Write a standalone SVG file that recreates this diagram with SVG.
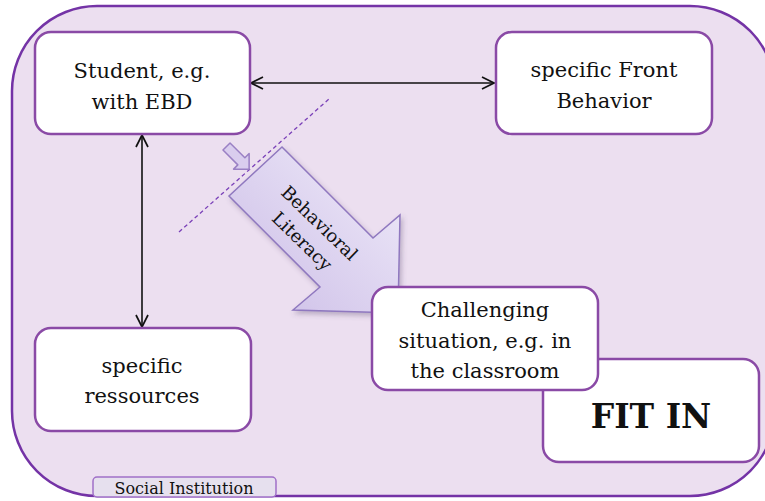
<svg xmlns="http://www.w3.org/2000/svg" width="765" height="501" viewBox="0 0 765 501">
  <style>
    .node { fill: #ffffff; stroke: #8a4aa6; stroke-width: 2.5; }
    .txt { font-family: "DejaVu Serif", "Liberation Serif", serif; font-size: 21px; fill: #111111; text-anchor: middle; }
    .conn { stroke: #111111; stroke-width: 1.6; fill: none; marker-start: url(#open); marker-end: url(#open); }
  </style>
  <defs>
    <marker id="open" viewBox="0 0 14 14" refX="13" refY="7" markerWidth="14" markerHeight="14" markerUnits="userSpaceOnUse" orient="auto-start-reverse">
      <path d="M1,1 L13,7 L1,13" fill="none" stroke="#111111" stroke-width="1.7"/>
    </marker>
    <linearGradient id="bigGrad" x1="1" y1="0" x2="0" y2="1">
      <stop offset="0" stop-color="#f0ecfa"/>
      <stop offset="1" stop-color="#cbbce6"/>
    </linearGradient>
    <filter id="shadow" x="-10%" y="-10%" width="130%" height="130%">
      <feDropShadow dx="2" dy="3" stdDeviation="2.5" flood-color="#5a4a70" flood-opacity="0.35"/>
    </filter>
  </defs>

  <g id="container">
    <rect x="12" y="6" width="763" height="490" rx="85" ry="85" fill="#ecdff0" stroke="#7433a6" stroke-width="2.5"/>
  </g>

  <g id="social-institution">
    <rect x="93" y="477" width="183" height="20" rx="4" ry="4" fill="#e6e0ee" stroke="#a070c8" stroke-width="1.5"/>
    <text x="184" y="494" class="txt" style="font-size:16px">Social Institution</text>
  </g>

  <g id="connectors">
    <line x1="251" y1="83" x2="494" y2="83" class="conn"/>
    <line x1="142" y1="135" x2="142" y2="327" class="conn"/>
    <line x1="179" y1="232" x2="329" y2="99" stroke="#7a40b8" stroke-width="1.3" stroke-dasharray="4,3"/>
    <polygon transform="translate(226.5,146.5) rotate(45)" points="0,-5 21,-5 21,-11 32,0 21,11 21,5 0,5" fill="#d9cdee" stroke="#9a80c4" stroke-width="1.5" stroke-linejoin="round"/>
  </g>

  <g id="behavioral-literacy">
    <polygon points="282,147 373,238 400,215 398,313 293,310 320,287 229,196" fill="url(#bigGrad)" stroke="#8f78bf" stroke-width="1.5" filter="url(#shadow)"/>
    <g transform="translate(311,232) rotate(44)">
      <text x="0" y="-6" class="txt" style="font-size:18px">Behavioral</text>
      <text x="0" y="19" class="txt" style="font-size:18px">Literacy</text>
    </g>
  </g>

  <g id="student">
    <rect x="35" y="32" width="215" height="102" rx="16" ry="16" class="node"/>
    <text x="142" y="78" class="txt">Student, e.g.</text>
    <text x="142" y="109" class="txt">with EBD</text>
  </g>

  <g id="front-behavior">
    <rect x="496" y="32" width="216" height="102" rx="16" ry="16" class="node"/>
    <text x="604" y="77" class="txt">specific Front</text>
    <text x="604" y="108" class="txt">Behavior</text>
  </g>

  <g id="ressources">
    <rect x="35" y="328" width="216" height="103" rx="16" ry="16" class="node"/>
    <text x="142" y="373" class="txt">specific</text>
    <text x="142" y="403" class="txt">ressources</text>
  </g>

  <g id="fit-in">
    <rect x="543" y="359" width="216" height="103" rx="16" ry="16" class="node"/>
    <text x="651" y="428" class="txt" style="font-size:33px;font-weight:bold">FIT IN</text>
  </g>

  <g id="challenging">
    <rect x="372" y="287" width="226" height="103" rx="16" ry="16" class="node"/>
    <text x="485" y="317" class="txt">Challenging</text>
    <text x="485" y="348" class="txt">situation, e.g. in</text>
    <text x="485" y="378" class="txt">the classroom</text>
  </g>
</svg>
